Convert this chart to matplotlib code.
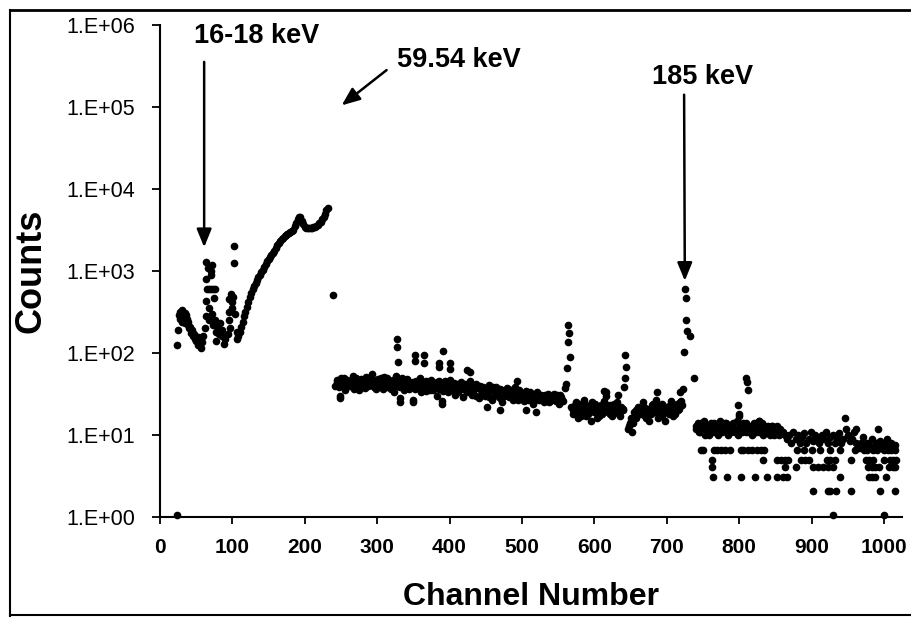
import numpy as np
import matplotlib
matplotlib.use("Agg")
import matplotlib.pyplot as plt
from matplotlib.lines import Line2D

plt.rcParams['font.family'] = ['Liberation Sans', 'DejaVu Sans']

# ---- data (channel, counts) ----
low_pts = [(23, 125), (25, 190), (26, 290), (27, 320), (28, 260), (29, 300), (30, 240),
           (31, 330), (32, 280), (33, 250), (34, 310), (35, 230), (36, 290), (37, 260),
           (38, 220), (39, 240), (40, 200), (42, 210), (43, 175), (44, 190), (45, 160),
           (47, 170), (48, 150), (50, 140), (52, 155), (53, 125), (55, 130), (57, 115),
           (58, 135), (60, 160), (62, 200), (63, 280), (64, 430), (64, 800), (64, 1300),
           (65, 600), (66, 1100), (67, 250), (67, 600), (68, 350), (70, 600), (70, 1000),
           (71, 900), (72, 1200), (72, 300), (73, 600), (73, 220), (74, 470), (76, 600),
           (76, 250), (77, 180), (78, 140), (80, 200), (81, 170), (83, 230), (85, 160),
           (86, 190), (88, 130), (90, 150), (94, 170), (95, 320), (95, 250), (96, 450),
           (97, 200), (98, 520), (99, 420), (100, 350), (101, 480), (102, 2000),
           (102, 1250), (104, 300), (106, 180), (107, 150)]

rise_pts = [(108, 160), (110, 180), (112, 210), (114, 240), (116, 280), (118, 320),
            (120, 360), (122, 420), (124, 480), (126, 540), (128, 600), (130, 650),
            (132, 720), (134, 780), (136, 840), (138, 900), (140, 970), (142, 1030),
            (144, 1120), (146, 1220), (148, 1320), (150, 1400), (152, 1480), (154, 1560),
            (156, 1640), (158, 1750), (160, 1900), (162, 2050), (164, 2200), (166, 2350),
            (168, 2450), (170, 2560), (172, 2650), (174, 2750), (176, 2800), (178, 2900),
            (180, 3000), (182, 3100), (184, 3200), (186, 3500), (188, 3900), (190, 4300),
            (192, 4600), (194, 4500), (196, 4100), (198, 3700), (200, 3450), (202, 3350),
            (204, 3300), (206, 3300), (208, 3300), (210, 3350), (212, 3400), (214, 3450),
            (216, 3550), (218, 3650), (220, 3800), (222, 4000), (224, 4300), (226, 4600),
            (228, 5000), (230, 5500), (232, 5900), (239, 510)]

band_pts = [(242, 40), (245, 47), (248, 30), (251, 44), (254, 50), (257, 38), (260, 45),
            (263, 42), (266, 52), (269, 39), (272, 46), (275, 35), (278, 48), (281, 43),
            (284, 51), (287, 40), (290, 45), (293, 55), (296, 38), (299, 47), (302, 42),
            (305, 50), (308, 36), (311, 44), (314, 49), (317, 41), (320, 46), (323, 33),
            (326, 52), (329, 40), (332, 28), (335, 45), (338, 39), (341, 48), (344, 36),
            (347, 43), (350, 27), (353, 46), (356, 40), (359, 50), (362, 37), (365, 44),
            (368, 34), (371, 42), (374, 47), (377, 35), (380, 41), (383, 30), (386, 45),
            (389, 26), (392, 39), (395, 43), (398, 33), (401, 47), (404, 38), (407, 31),
            (410, 42), (413, 36), (416, 44), (419, 29), (422, 40), (425, 34), (428, 45),
            (431, 31), (434, 37), (437, 42), (440, 28), (443, 35), (446, 39), (449, 30),
            (452, 36), (455, 41), (458, 27), (461, 34), (464, 38), (467, 30), (470, 36),
            (473, 25), (476, 33), (479, 37), (482, 29), (485, 35), (488, 31), (491, 38),
            (494, 27), (497, 33), (500, 30), (503, 26), (506, 34), (509, 29), (512, 32),
            (515, 24), (518, 30), (521, 33), (524, 27), (527, 31), (530, 25), (533, 29),
            (536, 32), (539, 26), (542, 30), (545, 27), (548, 31), (551, 24), (554, 29),
            (557, 26), (568, 22), (571, 18), (574, 25), (577, 16), (580, 21), (583, 19),
            (586, 27), (589, 17), (592, 22), (595, 15), (598, 20), (601, 24), (604, 16),
            (607, 21), (610, 18), (613, 26), (616, 30), (619, 19), (622, 23), (625, 17),
            (628, 21), (631, 25), (634, 18), (637, 22), (640, 20), (646, 12), (649, 14),
            (652, 11), (655, 19), (658, 16), (661, 22), (664, 18), (667, 25), (670, 17),
            (673, 21), (676, 15), (679, 23), (682, 19), (685, 27), (688, 16), (691, 20),
            (694, 24), (697, 15), (700, 21), (703, 18), (706, 26), (709, 17), (712, 22),
            (715, 20), (718, 25), (721, 23)]

# in-between channels of the same dense band
band2_pts = [(244, 44), (247, 38), (250, 49), (253, 42), (256, 35), (259, 47), (262, 40),
             (265, 45), (268, 36), (271, 50), (274, 43), (277, 39), (280, 47), (283, 37),
             (286, 44), (289, 49), (292, 41), (295, 45), (298, 36), (301, 48), (304, 40),
             (307, 45), (310, 51), (313, 38), (316, 43), (319, 36), (322, 47), (325, 41),
             (328, 44), (331, 38), (334, 49), (337, 35), (340, 43), (343, 46), (346, 38),
             (349, 44), (352, 36), (355, 42), (358, 45), (361, 33), (364, 41), (367, 46),
             (370, 38), (373, 35), (376, 43), (379, 39), (382, 44), (385, 36), (388, 40),
             (391, 34), (394, 45), (397, 37), (400, 41), (403, 35), (406, 43), (409, 38),
             (412, 33), (415, 40), (418, 36), (421, 42), (424, 33), (427, 38), (430, 41),
             (433, 34), (436, 30), (439, 37), (442, 40), (445, 32), (448, 36), (451, 33),
             (454, 29), (457, 35), (460, 38), (463, 31), (466, 34), (469, 28), (472, 35),
             (475, 30), (478, 33), (481, 36), (484, 31), (487, 27), (490, 33), (493, 30),
             (496, 35), (499, 28), (502, 32), (505, 29), (508, 27), (511, 33), (514, 29),
             (517, 26), (520, 31), (523, 28), (526, 30), (529, 27), (532, 31), (535, 28),
             (538, 25), (541, 29), (544, 32), (547, 26), (550, 28), (553, 31), (556, 27),
             (570, 20), (573, 23), (576, 19), (579, 24), (582, 17), (585, 20), (588, 23),
             (591, 18), (594, 21), (597, 25), (600, 19), (603, 22), (606, 17), (609, 23),
             (612, 20), (615, 24), (618, 21), (621, 18), (624, 20), (627, 24), (630, 19),
             (633, 22), (636, 17), (639, 21), (648, 13), (651, 16), (654, 14), (657, 20),
             (660, 18), (663, 21), (666, 19), (669, 22), (672, 16), (675, 20), (678, 18),
             (681, 24), (684, 21), (687, 19), (690, 23), (693, 17), (696, 20), (699, 22),
             (702, 19), (705, 23), (708, 20), (711, 18), (714, 24), (717, 21), (720, 26)]

# isolated points above / below the band and the three peaks
spike_pts = [(327, 150), (328, 118), (329, 78), (352, 95), (364, 95), (352, 80), (364, 76),
             (391, 105), (385, 75), (386, 68), (400, 76), (400, 63), (424, 62), (428, 58),
             (493, 45), (248, 28), (332, 25), (350, 25), (389, 24), (452, 22), (470, 20),
             (505, 20), (520, 19), (560, 37), (561, 42), (562, 65), (563, 135), (564, 220),
             (565, 175), (566, 90), (614, 34), (616, 33), (632, 31), (641, 38), (642, 50),
             (643, 95), (644, 67), (686, 33), (718, 33), (723, 36), (724, 102), (725, 600),
             (726, 470), (727, 250), (728, 185), (732, 160), (737, 50), (798, 23),
             (800, 17), (810, 50), (811, 44), (812, 35), (827, 15), (845, 13), (946, 16),
             (962, 12), (992, 12)]

tail_pts = [(740, 12), (743, 14), (746, 11), (749, 13), (752, 15), (755, 12), (758, 10),
            (761, 14), (764, 12), (767, 11), (770, 13), (773, 15), (776, 11), (779, 12),
            (782, 14), (785, 10), (788, 13), (791, 12), (794, 11), (797, 15), (800, 18),
            (803, 12), (806, 14), (809, 11), (812, 13), (815, 12), (818, 10), (821, 14),
            (824, 11), (827, 15), (830, 12), (833, 10), (836, 13), (839, 11), (842, 12),
            (845, 13), (848, 10), (851, 12), (854, 11), (857, 12), (860, 11), (863, 10),
            (866, 9), (869, 10), (872, 8), (875, 11), (878, 9), (881, 10), (884, 8),
            (887, 9.5), (890, 10.5), (893, 8), (896, 9), (899, 11), (902, 8.5), (905, 10),
            (908, 9), (911, 8), (914, 10), (917, 9), (920, 11), (923, 8), (926, 9.5),
            (929, 10), (932, 8), (935, 9), (938, 10.5), (941, 8), (944, 9), (947, 12),
            (950, 10), (953, 8.5), (956, 9), (959, 11), (962, 8), (965, 7), (968, 8),
            (971, 9.5), (974, 7), (977, 8), (980, 7.5), (983, 9), (986, 7), (989, 8),
            (992, 7), (995, 8.5), (998, 7), (1001, 8), (1004, 9), (1007, 7), (1010, 8),
            (1013, 7), (1016, 7.5)]

tail2_pts = [(741, 13), (744, 11), (747, 14), (750, 12), (753, 10), (756, 13), (759, 12),
             (762, 11), (765, 14), (768, 12), (771, 10), (774, 13), (777, 12), (780, 14),
             (783, 11), (786, 13), (789, 11), (792, 14), (795, 12), (798, 10), (801, 13),
             (804, 11), (807, 12), (810, 14), (813, 11), (816, 13), (819, 12), (822, 11),
             (825, 13), (828, 11), (831, 14), (834, 12), (837, 11), (840, 13), (843, 10),
             (846, 12), (849, 11), (852, 13), (855, 10), (858, 11)]

# low-count rows in the tail (counts come in discrete levels)
row_6 = [747, 750, 765, 770, 775, 780, 788, 802, 806, 812, 818, 825, 830, 835, 880, 890,
         900, 912, 925, 940, 960, 972, 976, 985, 990, 1000, 1005, 1010, 1015]
row_5 = [762, 833, 853, 858, 863, 868, 886, 891, 897, 921, 926, 932, 955, 975, 980, 985,
         1000, 1008, 1013, 1017]
row_4 = [762, 863, 879, 902, 909, 916, 923, 930, 978, 983, 988, 993, 1007, 1012, 1016]
row_3 = [764, 783, 803, 822, 839, 853, 860, 866, 939, 980, 984, 988, 1003]
row_2 = [902, 923, 926, 934, 954, 995, 1016]
row_1 = [23, 930, 1000]
row_levels = [6.6, 5, 4.1, 3.1, 2.1, 1.05]

y_ticks = [1, 10, 100, 1e3, 1e4, 1e5, 1e6]
y_tick_labels = ["1.E+00", "1.E+01", "1.E+02", "1.E+03", "1.E+04", "1.E+05", "1.E+06"]
x_ticks = list(range(0, 1001, 100))

fig = plt.figure(figsize=(9.11, 6.18), dpi=100)
ax = fig.add_axes([160 / 911, 1 - 517 / 618, 742 / 911, 492 / 618])

mk = dict(marker='o', ms=4.5, color='black', ls='none', clip_on=False)
for pts in [low_pts, rise_pts, band_pts, band2_pts, spike_pts, tail_pts, tail2_pts]:
    xs, ys = zip(*pts)
    ax.plot(xs, ys, **mk)
for row, lev in zip([row_6, row_5, row_4, row_3, row_2, row_1], row_levels):
    ax.plot(row, [lev] * len(row), **mk)

ax.set_yscale('log')
ax.set_xlim(0, 1025)
ax.set_ylim(1, 1e6)
ax.set_yticks(y_ticks)
ax.set_yticklabels(y_tick_labels, fontsize=15.5)
ax.set_xticks(x_ticks)
ax.set_xticklabels([str(t) for t in x_ticks], fontsize=15, fontweight='bold')
ax.minorticks_off()
ax.tick_params(axis='y', direction='out', length=6, width=1.3, pad=12)
ax.tick_params(axis='x', direction='out', length=5, width=1.3, pad=10)

for s in ['top', 'right']:
    ax.spines[s].set_visible(False)
for s in ['left', 'bottom']:
    ax.spines[s].set_linewidth(1.5)

ax.set_xlabel('Channel Number', fontsize=23, fontweight='bold', labelpad=18)
ax.set_ylabel('Counts', fontsize=26, fontweight='bold')
ax.yaxis.set_label_coords(-0.15, 0.5)

# annotations
arrow = dict(arrowstyle='-|>,head_length=1.1,head_width=0.45', color='black', lw=1.8,
             shrinkA=0, shrinkB=0)
ax.text(134, 10 ** 5.87, '16-18 keV', fontsize=19.5, fontweight='bold', ha='center', va='center')
ax.annotate('', xy=(61, 10 ** 3.29), xytext=(61, 10 ** 5.55), arrowprops=arrow)

ax.text(413, 10 ** 5.57, '59.54 keV', fontsize=19.5, fontweight='bold', ha='center', va='center')
ax.annotate('', xy=(251, 10 ** 5.02), xytext=(313, 10 ** 5.45), arrowprops=arrow)

ax.text(750, 10 ** 5.36, '185 keV', fontsize=19.5, fontweight='bold', ha='center', va='center')
ax.annotate('', xy=(725, 10 ** 2.88), xytext=(724, 10 ** 5.15), arrowprops=arrow)

# scanned page frame
W, H = 911, 618
fig.add_artist(Line2D([10 / W, 10 / W], [1 - 10 / H, 1 - 616 / H], color='black', lw=1.5))
fig.add_artist(Line2D([10 / W, 1], [1 - 10 / H, 1 - 10 / H], color='black', lw=2))
fig.add_artist(Line2D([10 / W, 1], [1 - 615 / H, 1 - 615 / H], color='black', lw=1.5))

fig.savefig('out.png', dpi=100)
